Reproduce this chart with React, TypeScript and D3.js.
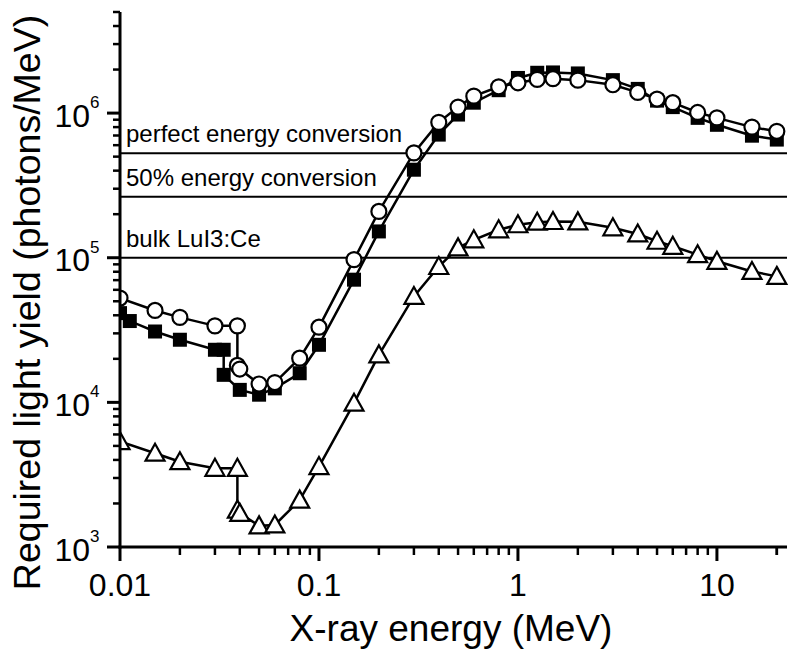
import React from "react";
import * as d3 from "d3";

// ---- data ----
const circleE = [0.01, 0.015, 0.02, 0.03, 0.0389, 0.0389, 0.04, 0.05, 0.06, 0.08, 0.1, 0.15, 0.2, 0.3, 0.4, 0.5, 0.6, 0.8, 1, 1.25, 1.5, 2, 3, 4, 5, 6, 8, 10, 15, 20];
const circleY = [5.26e4, 4.32e4, 3.87e4, 3.38e4, 3.38e4, 1.8e4, 1.7e4, 1.34e4, 1.37e4, 2.02e4, 3.31e4, 9.7e4, 2.09e5, 5.31e5, 8.63e5, 1.1e6, 1.31e6, 1.52e6, 1.62e6, 1.71e6, 1.73e6, 1.69e6, 1.57e6, 1.39e6, 1.25e6, 1.18e6, 1.01e6, 9.27e5, 8.0e5, 7.48e5];

const squareE = [0.01, 0.0112, 0.015, 0.02, 0.03, 0.0332, 0.0332, 0.04, 0.05, 0.06, 0.08, 0.1, 0.15, 0.2, 0.3, 0.4, 0.5, 0.6, 0.8, 1, 1.25, 1.5, 2, 3, 4, 5, 6, 8, 10, 15, 20];
const squareY = [4.14e4, 3.65e4, 3.09e4, 2.71e4, 2.31e4, 2.31e4, 1.55e4, 1.22e4, 1.13e4, 1.25e4, 1.59e4, 2.5e4, 7.05e4, 1.52e5, 4.06e5, 7.1e5, 9.77e5, 1.18e6, 1.44e6, 1.75e6, 1.9e6, 1.91e6, 1.88e6, 1.69e6, 1.47e6, 1.22e6, 1.1e6, 9.27e5, 8.3e5, 6.98e5, 6.56e5];

const triE = [0.01, 0.015, 0.02, 0.03, 0.0389, 0.0389, 0.04, 0.05, 0.06, 0.08, 0.1, 0.15, 0.2, 0.3, 0.4, 0.5, 0.6, 0.8, 1, 1.25, 1.5, 2, 3, 4, 5, 6, 8, 10, 15, 20];
const triY = [5.36e3, 4.45e3, 3.89e3, 3.5e3, 3.5e3, 1.8e3, 1.71e3, 1.4e3, 1.42e3, 2.11e3, 3.6e3, 9.87e3, 2.13e4, 5.4e4, 8.7e4, 1.17e5, 1.33e5, 1.56e5, 1.69e5, 1.76e5, 1.78e5, 1.77e5, 1.61e5, 1.46e5, 1.3e5, 1.2e5, 1.05e5, 9.45e4, 8.04e4, 7.43e4];

const refLabels = ["perfect energy conversion", "50% energy conversion", "bulk LuI3:Ce"];
const refValues = [5.28e5, 2.64e5, 1.0e5];

const xTickValues = [0.01, 0.1, 1, 10];
const xTickLabels = ["0.01", "0.1", "1", "10"];
const yTickValues = [1e3, 1e4, 1e5, 1e6];
const yTickExps = ["3", "4", "5", "6"];

const xDomain = [0.01, 22.5];
const yDomain = [1e3, 5e6];

const W = 800, H = 663;
const L = 120, R = 787, T = 12, B = 547;
const FONT = "'Liberation Sans', Arial, Helvetica, sans-serif";

export default function App() {
  const x = d3.scaleLog().domain(xDomain).range([L, R]);
  const y = d3.scaleLog().domain(yDomain).range([B, T]);

  const xMinor: number[] = [];
  for (let k = -2; k <= 1; k++) for (let m = 2; m <= 9; m++) {
    const v = m * Math.pow(10, k);
    if (v <= xDomain[1]) xMinor.push(v);
  }
  xMinor.push(20);
  const yMinor: number[] = [];
  for (let k = 3; k <= 6; k++) for (let m = 2; m <= 9; m++) {
    const v = m * Math.pow(10, k);
    if (v <= yDomain[1] * 1.0001) yMinor.push(v);
  }

  const line = d3.line<[number, number]>().x(d => x(d[0])).y(d => y(d[1]));
  const circ = circleE.map((e, i) => [e, circleY[i]] as [number, number]);
  const sq = squareE.map((e, i) => [e, squareY[i]] as [number, number]);
  const tri = triE.map((e, i) => [e, triY[i]] as [number, number]);

  const triPath = (cx: number, cy: number) => {
    const w = 19, h = 17;
    return `M${cx},${cy - h / 2 - 1}L${cx + w / 2},${cy + h / 2 - 1}L${cx - w / 2},${cy + h / 2 - 1}Z`;
  };

  return (
    <svg width={W} height={H} style={{ position: "absolute", left: 0, top: 0, background: "#fff" }} fontFamily={FONT}>
      <defs>
        <clipPath id="plotclip">
          <rect x={L} y={0} width={R - L + 20} height={B} />
        </clipPath>
      </defs>
      <rect x={0} y={0} width={W} height={H} fill="#fff" />

      {/* reference lines */}
      {refValues.map((v, i) => (
        <g key={"ref" + i}>
          <line x1={L} x2={R} y1={y(v)} y2={y(v)} stroke="#000" strokeWidth={2} />
          <text x={126} y={y(v) - 11} fontSize={24} fill="#000">{refLabels[i]}</text>
        </g>
      ))}

      <g clipPath="url(#plotclip)">
        {/* series lines */}
        <path d={line(tri) || ""} fill="none" stroke="#000" strokeWidth={2.5} />
        <path d={line(sq) || ""} fill="none" stroke="#000" strokeWidth={2.5} />
        <path d={line(circ) || ""} fill="none" stroke="#000" strokeWidth={2.5} />
        {/* markers */}
        {tri.map((d, i) => (
          <path key={"t" + i} d={triPath(x(d[0]), y(d[1]))} fill="#fff" stroke="#000" strokeWidth={2.2} strokeLinejoin="miter" />
        ))}
        {sq.map((d, i) => (
          <rect key={"s" + i} x={x(d[0]) - 7} y={y(d[1]) - 7} width={14} height={14} fill="#000" />
        ))}
        {circ.map((d, i) => (
          <circle key={"c" + i} cx={x(d[0])} cy={y(d[1])} r={7.5} fill="#fff" stroke="#000" strokeWidth={2.2} />
        ))}
      </g>

      {/* axes */}
      <line x1={L} x2={L} y1={T} y2={B + 1.5} stroke="#000" strokeWidth={3} />
      <line x1={L - 1.5} x2={R} y1={B} y2={B} stroke="#000" strokeWidth={3} />
      {xTickValues.map((v, i) => (
        <g key={"xt" + i}>
          <line x1={x(v)} x2={x(v)} y1={B} y2={B + 14} stroke="#000" strokeWidth={3} />
          <text x={x(v)} y={596} fontSize={32} textAnchor="middle" fill="#000">{xTickLabels[i]}</text>
        </g>
      ))}
      {xMinor.map((v, i) => (
        <line key={"xm" + i} x1={x(v)} x2={x(v)} y1={B} y2={B + 8} stroke="#000" strokeWidth={2.5} />
      ))}
      {yTickValues.map((v, i) => (
        <g key={"yt" + i}>
          <line x1={L - 13} x2={L} y1={y(v)} y2={y(v)} stroke="#000" strokeWidth={3} />
          <text x={90} y={y(v) + 13.5} fontSize={32} textAnchor="end" fill="#000">10</text>
          <text x={90} y={y(v) - 5} fontSize={17} textAnchor="start" fill="#000">{yTickExps[i]}</text>
        </g>
      ))}
      {yMinor.map((v, i) => (
        <line key={"ym" + i} x1={L - 7} x2={L} y1={y(v)} y2={y(v)} stroke="#000" strokeWidth={2.5} />
      ))}

      {/* axis titles */}
      <text x={451} y={641} fontSize={37} textAnchor="middle" fill="#000">X-ray energy (MeV)</text>
      <text transform={`translate(40,${(15 + 590) / 2}) rotate(-90)`} fontSize={37.5} textAnchor="middle" fill="#000">Required light yield (photons/MeV)</text>
    </svg>
  );
}
